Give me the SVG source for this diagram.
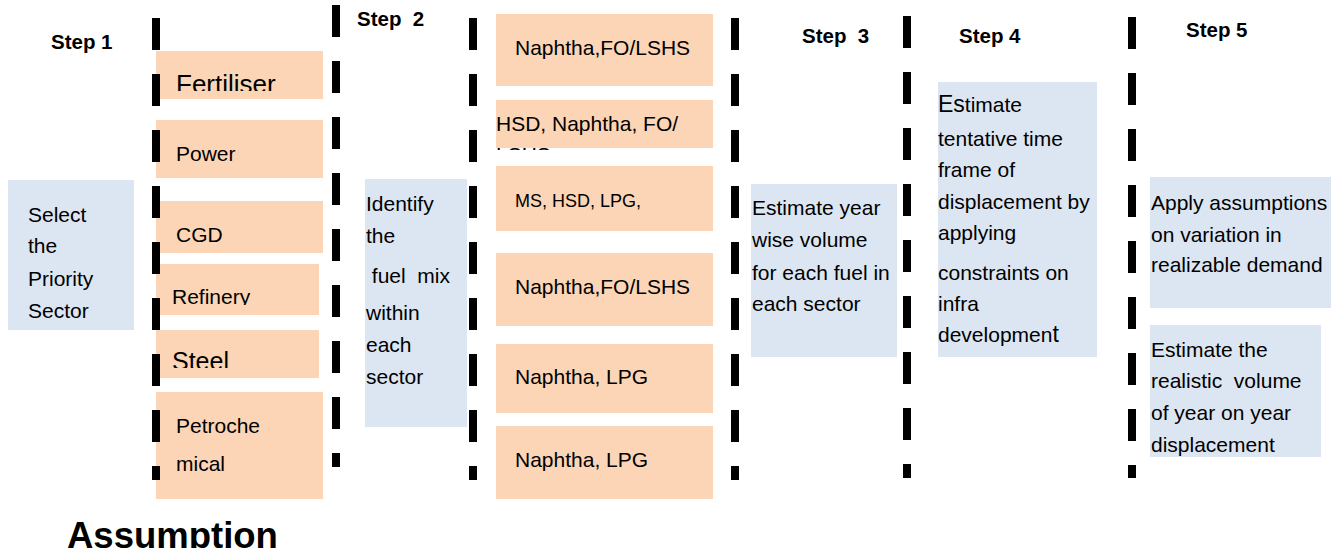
<svg xmlns="http://www.w3.org/2000/svg" width="1341" height="553" viewBox="0 0 1341 553">
  <style>
    .peach { fill: #FBD5B5; }
    .blue { fill: #DCE6F2; }
    text { font-family: "Liberation Sans", Arial, sans-serif; fill: #000; }
    .t { font-size: 21px; }
    .sm { font-size: 18px; }
    .step { font-size: 20.5px; font-weight: bold; }
    .sep { stroke: #000; stroke-width: 8; stroke-dasharray: 32 24; fill: none; }
  </style>
  <defs>
    <clipPath id="clipFert"><rect x="156" y="51" width="167" height="40"/></clipPath>
    <clipPath id="clipRef"><rect x="156" y="264" width="163" height="41"/></clipPath>
    <clipPath id="clipSteel"><rect x="156" y="330" width="163" height="38"/></clipPath>
    <clipPath id="clipHsd"><rect x="496" y="100" width="217" height="50"/></clipPath>
    <clipPath id="clipAssume"><rect x="0" y="500" width="400" height="48"/></clipPath>
  </defs>

  <rect width="1341" height="553" fill="#fff"/>

  <!-- step headings -->
  <g id="headings">
    <text class="step" x="51" y="49">Step 1</text>
    <text class="step" x="357" y="26" xml:space="preserve">Step  2</text>
    <text class="step" x="802" y="43" xml:space="preserve">Step  3</text>
    <text class="step" x="959" y="43">Step 4</text>
    <text class="step" x="1186" y="37">Step 5</text>
  </g>

  <!-- step 1 -->
  <g id="select-sector">
    <rect class="blue" x="8" y="180" width="126" height="150"/>
    <text class="t" x="28" y="222">Select</text>
    <text class="t" x="28" y="253">the</text>
    <text class="t" x="28" y="286">Priority</text>
    <text class="t" x="28" y="318">Sector</text>
  </g>
  <g id="sector-fertiliser">
    <rect class="peach" x="156" y="51" width="167" height="48"/>
    <text x="176" y="93" font-size="26" clip-path="url(#clipFert)">Fertiliser</text>
  </g>
  <g id="sector-power">
    <rect class="peach" x="156" y="120" width="167" height="58"/>
    <text class="t" x="176" y="161">Power</text>
  </g>
  <g id="sector-cgd">
    <rect class="peach" x="156" y="201" width="167" height="52"/>
    <text class="t" x="176" y="242">CGD</text>
  </g>
  <g id="sector-refinery">
    <rect class="peach" x="156" y="264" width="163" height="51"/>
    <text class="t" x="172" y="304" clip-path="url(#clipRef)">Refinery</text>
  </g>
  <g id="sector-steel">
    <rect class="peach" x="156" y="330" width="163" height="48"/>
    <text x="172" y="370" font-size="25" clip-path="url(#clipSteel)">Steel</text>
  </g>
  <g id="sector-petrochemical">
    <rect class="peach" x="156" y="392" width="167" height="107"/>
    <text class="t" x="176" y="433">Petroche</text>
    <text class="t" x="176" y="471">mical</text>
  </g>

  <!-- step 2 -->
  <g id="identify-fuel-mix">
    <rect class="blue" x="365" y="179" width="102" height="248"/>
    <text class="t" x="366" y="211">Identify</text>
    <text class="t" x="366" y="243">the</text>
    <text class="t" x="366" y="283" xml:space="preserve"> fuel  mix</text>
    <text class="t" x="366" y="320">within</text>
    <text class="t" x="366" y="352">each</text>
    <text class="t" x="366" y="384">sector</text>
  </g>
  <g id="fuel-fertiliser">
    <rect class="peach" x="496" y="14" width="217" height="72"/>
    <text class="t" x="515" y="55">Naphtha,FO/LSHS</text>
  </g>
  <g id="fuel-power">
    <rect class="peach" x="496" y="100" width="217" height="48"/>
    <g clip-path="url(#clipHsd)">
      <text class="t" x="496" y="131">HSD, Naphtha, FO/</text>
      <text class="t" x="496" y="162">LSHS</text>
    </g>
  </g>
  <g id="fuel-cgd">
    <rect class="peach" x="496" y="166" width="217" height="65"/>
    <text class="sm" x="515" y="207">MS, HSD, LPG,</text>
  </g>
  <g id="fuel-refinery">
    <rect class="peach" x="496" y="253" width="217" height="73"/>
    <text class="t" x="515" y="294">Naphtha,FO/LSHS</text>
  </g>
  <g id="fuel-steel">
    <rect class="peach" x="496" y="344" width="217" height="69"/>
    <text class="t" x="515" y="384">Naphtha, LPG</text>
  </g>
  <g id="fuel-petrochemical">
    <rect class="peach" x="496" y="426" width="217" height="73"/>
    <text class="t" x="515" y="467">Naphtha, LPG</text>
  </g>

  <!-- step 3 -->
  <g id="year-wise-volume">
    <rect class="blue" x="751" y="184" width="146" height="173"/>
    <text class="t" x="752" y="215">Estimate year</text>
    <text class="t" x="752" y="247">wise volume</text>
    <text class="t" x="752" y="280">for each fuel in</text>
    <text class="t" x="752" y="311">each sector</text>
  </g>

  <!-- step 4 -->
  <g id="time-frame">
    <rect class="blue" x="938" y="82" width="159" height="275"/>
    <text class="t" x="938" y="112"><tspan font-size="23">Es</tspan>timate</text>
    <text class="t" x="938" y="146">tentative time</text>
    <text class="t" x="938" y="177">frame of</text>
    <text class="t" x="938" y="209">displacement by</text>
    <text class="t" x="938" y="240">applying</text>
    <text class="t" x="938" y="280">constraints on</text>
    <text class="t" x="938" y="311">infra</text>
    <text class="t" x="938" y="342">developmen<tspan font-size="23">t</tspan></text>
  </g>

  <!-- step 5 -->
  <g id="realizable-demand">
    <rect class="blue" x="1150" y="177" width="181" height="131"/>
    <text class="t" x="1151" y="210">Apply assumptions</text>
    <text class="t" x="1151" y="242">on variation in</text>
    <text class="t" x="1151" y="272">realizable demand</text>
  </g>
  <g id="realistic-volume">
    <rect class="blue" x="1150" y="325" width="171" height="132"/>
    <text class="t" x="1151" y="357">Estimate the</text>
    <text class="t" x="1151" y="388" xml:space="preserve">realistic  volume</text>
    <text class="t" x="1151" y="420">of year on year</text>
    <text class="t" x="1151" y="452">displacement</text>
  </g>

  <g id="assumption-title" clip-path="url(#clipAssume)">
    <text x="67" y="548" font-size="36.5" font-weight="bold">Assumption</text>
  </g>

  <!-- dashed separators between steps -->
  <g id="connectors">
    <line class="sep" x1="156" y1="18" x2="156" y2="480"/>
    <line class="sep" x1="336" y1="5" x2="336" y2="467"/>
    <line class="sep" x1="473" y1="18" x2="473" y2="480"/>
    <line class="sep" x1="735" y1="18" x2="735" y2="480"/>
    <line class="sep" x1="907" y1="16" x2="907" y2="478"/>
    <line class="sep" x1="1132" y1="17" x2="1132" y2="478"/>
  </g>
</svg>
